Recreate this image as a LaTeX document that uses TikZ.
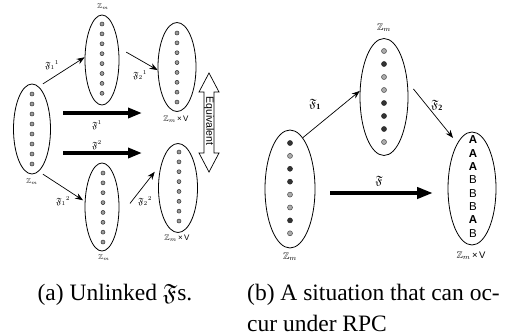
\documentclass[tikz,border=0pt]{standalone}
\usepackage{amssymb}
\usepackage{fontspec}
\setmainfont{Liberation Serif}
\newfontfamily\arialish{Liberation Sans}
\usetikzlibrary{shapes.geometric,arrows.meta}

\tikzset{
  setshape/.style={draw, ellipse, line width=0.8pt, inner sep=0pt},
  dotA/.style={circle, draw=black!80, fill=black!40, line width=0.5pt, inner sep=0pt, minimum size=4pt},
  dotL/.style={circle, draw=black!70, fill=black!33, line width=0.5pt, inner sep=0pt, minimum size=5pt},
  dotD/.style={circle, draw=black!85, fill=black!80, line width=0.5pt, inner sep=0pt, minimum size=5pt},
  smalllab/.style={inner sep=0pt, font=\arialish\fontsize{7}{8}\selectfont},
  biglab/.style={inner sep=0pt, font=\arialish\fontsize{9.5}{11}\selectfont},
  frakA/.style={inner sep=0pt, font=\fontsize{9}{10}\selectfont},
  frakB/.style={inner sep=0pt, font=\fontsize{12}{14}\selectfont},
  letA/.style={inner sep=0pt, font=\arialish\bfseries\fontsize{11.5}{12}\selectfont},
  letB/.style={inner sep=0pt, font=\arialish\fontsize{11.5}{12}\selectfont},
  mapto/.style={-{Stealth[length=8pt,width=6pt]}, line width=0.7pt},
  bigmap/.style={-{Triangle[length=14pt,width=10pt]}, line width=3.4pt},
  capt/.style={inner sep=0pt, anchor=base, font=\fontsize{23.5}{28}\selectfont}
}

\begin{document}
\begin{tikzpicture}[x=1pt, y=-1pt]
\useasboundingbox (0,0) rectangle (513,335);

% ---------- (a) unlinked maps ----------
\node[setshape, minimum width=37pt, minimum height=90pt] (L)  at (32,129) {};
\node[setshape, minimum width=34pt, minimum height=90pt] (M1) at (102,60) {};
\node[setshape, minimum width=38pt, minimum height=89pt] (R1) at (177,67) {};
\node[setshape, minimum width=34pt, minimum height=88pt] (M2) at (102,207) {};
\node[setshape, minimum width=39pt, minimum height=89pt] (R2) at (178,188) {};

\foreach \i in {0,...,7} {
  \node[dotA] (Ld\i)  at (32, 94+10*\i) {};
  \node[dotA] (M1d\i) at (102, 24+9.9*\i) {};
  \node[dotA] (R1d\i) at (177, 33+9.86*\i) {};
  \node[dotA] (M2d\i) at (103, 173+9.86*\i) {};
  \node[dotA] (R2d\i) at (179, 152+9.86*\i) {};
}

\node[smalllab] (zL)  at (32,182)  {$\mathbb{Z}_{m}$};
\node[smalllab] (zM1) at (103,7)   {$\mathbb{Z}_{m}$};
\node[smalllab] (zM2) at (104,258) {$\mathbb{Z}_{m}$};
\node[smalllab, font=\arialish\fontsize{8}{9}\selectfont] (zR1) at (176,119) {$\mathbb{Z}_{m}$\,×\,V};
\node[smalllab, font=\arialish\fontsize{8}{9}\selectfont] (zR2) at (177,238) {$\mathbb{Z}_{m}$\,×\,V};

\draw[mapto, shorten <=5pt] (L.81) -- (M1.171);
\draw[mapto, shorten <=8.6pt] (M1.36) -- (R1.189);
\draw[mapto, shorten <=5pt, shorten >=2pt] (L.-81) -- (M2.162);
\draw[mapto, shorten <=18pt, shorten >=10.7pt] (M2.-32) -- (R2.124);

\node[frakA] (f11) at (52,65)  {$\mathfrak{F}_{1}{}^{1}$};
\node[frakA] (f21) at (140,75) {$\mathfrak{F}_{2}{}^{1}$};
\node[frakA] (f12) at (63,201) {$\mathfrak{F}_{1}{}^{2}$};
\node[frakA] (f22) at (145,201){$\mathfrak{F}_{2}{}^{2}$};

\coordinate (t1s) at (63,113);
\coordinate (t1e) at (142,113);
\coordinate (t2s) at (63,153);
\coordinate (t2e) at (142,153);
\draw[bigmap] (t1s) -- (t1e);
\draw[bigmap] (t2s) -- (t2e);
\node[frakA] (g1) at (97,125) {$\mathfrak{F}^{1}$};
\node[frakA] (g2) at (97,145) {$\mathfrak{F}^{2}$};

% double-headed "Equivalent" block arrow
\draw[line width=0.7pt, fill=white]
  (209,73) -- (219,92) -- (214,92) -- (214,153) -- (219,153) -- (209,172)
  -- (199,153) -- (204,153) -- (204,92) -- (199,92) -- cycle;
\node[inner sep=0pt, rotate=-90, font=\arialish\fontsize{10.5}{11}\selectfont] (eq) at (209,121) {Equivalent};

% ---------- (b) a situation under RPC ----------
\node[setshape, minimum width=50pt, minimum height=118pt] (LB) at (290,189) {};
\node[setshape, minimum width=48pt, minimum height=117pt] (MB) at (384,97) {};
\node[setshape, minimum width=48pt, minimum height=113pt] (RB) at (472,188.5) {};

\foreach \c [count=\i from 0] in {dotD,dotL,dotD,dotD,dotL,dotL,dotD,dotL}
  \node[\c] (LBd\i) at (290, 143+12.9*\i) {};
\foreach \c [count=\i from 0] in {dotL,dotD,dotL,dotL,dotD,dotD,dotD,dotL}
  \node[\c] (MBd\i) at (384, 51+13*\i) {};
\foreach \s/\t [count=\i from 0] in {letA/A,letA/A,letA/A,letB/B,letB/B,letB/B,letA/A,letB/B}
  \node[\s] (RBl\i) at (473, 140+13.3*\i) {\t};

\node[biglab] (zLB) at (290,257) {$\mathbb{Z}_{m}$};
\node[biglab] (zMB) at (384,28)  {$\mathbb{Z}_{m}$};
\node[biglab] (zRB) at (471,256) {$\mathbb{Z}_{m}$\,×\,V};

\draw[mapto] (LB.76) -- (MB.166);
\draw[mapto, shorten <=9.3pt, shorten >=6.7pt] (MB.33) -- (RB.108);
\node[frakB] (h1) at (315,104) {$\mathfrak{F}_{\mathbf{1}}$};
\node[frakB] (h2) at (437,105) {$\mathfrak{F}_{\mathbf{2}}$};

\coordinate (fs) at (330,193);
\coordinate (fe) at (433,193);
\draw[bigmap, line width=4pt, -{Triangle[length=16pt,width=11pt]}] (fs) -- (fe);
\node[frakB] (h) at (379,181) {$\mathfrak{F}$};

% ---------- captions ----------
\node[capt] (capa) at (115,300) {(a)~Unlinked $\mathfrak{F}$s.};
\node[capt, anchor=base west] (capb1) at (247,300) {(b)~A situation that can oc-};
\node[capt, anchor=base west] (capb2) at (247,331) {cur under RPC};
\end{tikzpicture}
\end{document}
